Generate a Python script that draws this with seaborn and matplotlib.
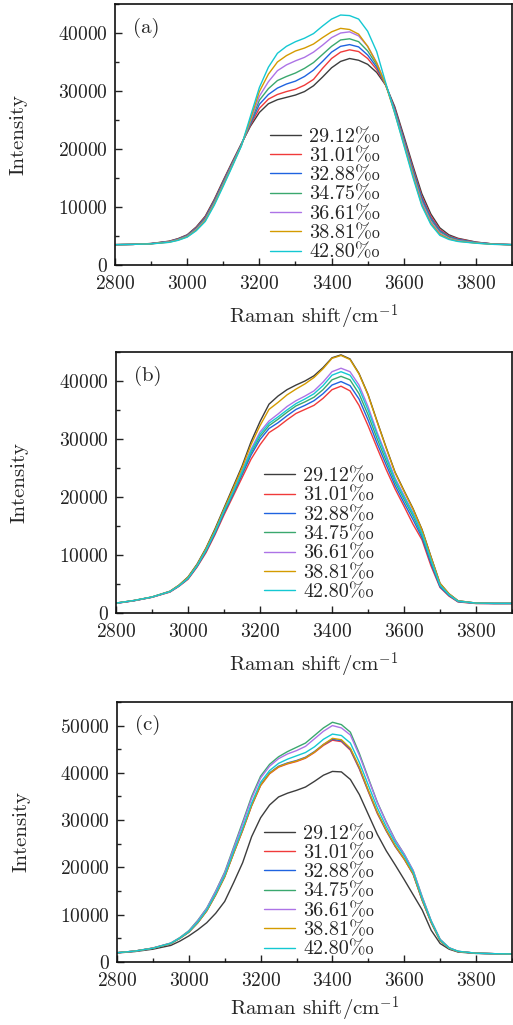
import numpy as np
import pandas as pd
import matplotlib
matplotlib.use("Agg")
import matplotlib.pyplot as plt
from matplotlib.ticker import MultipleLocator
import seaborn as sns

# wavenumber grid (cm^-1) shared by all three panels
shift = [2800, 2850, 2900, 2950, 2975, 3000, 3025, 3050, 3075, 3100, 3125, 3150, 3175,
         3200, 3225, 3250, 3275, 3300, 3325, 3350, 3375, 3400, 3425, 3450, 3475, 3500,
         3525, 3550, 3575, 3600, 3625, 3650, 3675, 3700, 3725, 3750, 3800, 3850, 3900]

labels = ["29.12%\u2080", "31.01%\u2080", "32.88%\u2080", "34.75%\u2080",
          "36.61%\u2080", "38.81%\u2080", "42.80%\u2080"]
colors = ["#3d3d3d", "#f03a3a", "#1f63e0", "#3aa86e", "#ad73e6", "#d49b00", "#14c8d2"]

# panel (a)
a_2912 = [3500, 3550, 3700, 4100, 4550, 5200, 6550, 8400, 11300, 14600, 17800, 20900, 23900, 26300, 27800, 28500, 28900, 29300, 29900, 30900, 32400, 34000, 35100, 35600, 35300, 34600, 33200, 31000, 27300, 22300, 17200, 12300, 8800, 6400, 5200, 4600, 3950, 3600, 3500]
a_3101 = [3500, 3550, 3690, 4070, 4500, 5130, 6440, 8250, 11130, 14430, 17670, 20830, 24100, 27000, 28600, 29400, 29900, 30300, 31000, 32000, 33900, 35600, 36700, 37100, 36800, 35600, 33700, 31000, 27000, 21900, 16800, 11800, 8400, 6100, 5000, 4500, 3920, 3600, 3500]
a_3288 = [3500, 3550, 3680, 4030, 4450, 5070, 6330, 8100, 10970, 14270, 17530, 20770, 24300, 27700, 29400, 30500, 31200, 31700, 32500, 33600, 35100, 36700, 37700, 38000, 37600, 36200, 34100, 31050, 26800, 21700, 16500, 11500, 8100, 5900, 4900, 4400, 3880, 3600, 3500]
a_3475 = [3500, 3550, 3670, 4000, 4400, 5000, 6230, 7950, 10800, 14100, 17400, 20700, 24500, 28400, 30400, 31800, 32500, 33100, 33900, 34900, 36300, 37700, 38800, 39000, 38500, 36900, 34500, 31100, 26600, 21400, 16200, 11100, 7800, 5700, 4800, 4300, 3840, 3580, 3500]
a_3661 = [3500, 3550, 3660, 3970, 4350, 4930, 6120, 7800, 10630, 13930, 17270, 20630, 24800, 29100, 31600, 33500, 34500, 35200, 35800, 36700, 37900, 39200, 40000, 40200, 39500, 37700, 34900, 31150, 26400, 21200, 15800, 10800, 7500, 5500, 4600, 4200, 3800, 3570, 3500]
a_3881 = [3500, 3550, 3650, 3930, 4300, 4870, 6010, 7650, 10470, 13770, 17130, 20570, 25100, 29900, 32900, 35000, 36100, 36900, 37400, 38100, 39200, 40200, 40800, 40600, 39800, 37700, 34800, 31100, 26200, 20900, 15500, 10400, 7200, 5300, 4500, 4100, 3770, 3560, 3500]
a_4280 = [3500, 3550, 3640, 3900, 4250, 4800, 5900, 7500, 10300, 13600, 17000, 20500, 25600, 30600, 34100, 36500, 37700, 38500, 39100, 39900, 41200, 42400, 43100, 43000, 42400, 40300, 36800, 31400, 26200, 20700, 15200, 10200, 7000, 5100, 4400, 4050, 3750, 3550, 3500]

# panel (b)
b_2912 = [1700, 2150, 2750, 3750, 4800, 6200, 8400, 11200, 14500, 18100, 21700, 25300, 29500, 33000, 36000, 37400, 38500, 39300, 40000, 40900, 42300, 44000, 44500, 43800, 41300, 37700, 33100, 28600, 24300, 21100, 18000, 14400, 9700, 5100, 3300, 2100, 1700, 1650, 1650]
b_3101 = [1650, 2100, 2700, 3600, 4600, 5800, 7900, 10400, 13500, 16900, 20100, 23300, 26500, 29000, 31100, 32100, 33300, 34400, 35100, 35800, 37000, 38500, 39100, 38300, 35800, 32300, 28500, 24800, 21400, 18400, 15300, 12600, 8100, 4400, 2900, 1900, 1620, 1600, 1600]
b_3288 = [1660, 2110, 2710, 3650, 4640, 5900, 8000, 10600, 13700, 17200, 20400, 23800, 27200, 29900, 31800, 32800, 34000, 35100, 35800, 36600, 37800, 39300, 39900, 39200, 36900, 33300, 29300, 25600, 22000, 19000, 16100, 13000, 8500, 4500, 3000, 1950, 1650, 1630, 1630]
b_3475 = [1680, 2130, 2730, 3680, 4680, 5950, 8100, 10700, 13900, 17400, 20600, 24100, 27600, 30400, 32300, 33400, 34600, 35700, 36400, 37200, 38500, 40200, 40800, 40200, 37800, 34200, 30100, 26300, 22600, 19600, 16700, 13400, 8900, 4700, 3100, 2000, 1670, 1650, 1650]
b_3661 = [1680, 2130, 2730, 3700, 4720, 6050, 8200, 10900, 14100, 17700, 21000, 24500, 28200, 31200, 33100, 34300, 35600, 36600, 37400, 38300, 39800, 41600, 42200, 41600, 39300, 35600, 31200, 27300, 23300, 20300, 17300, 13900, 9300, 4900, 3200, 2050, 1680, 1650, 1650]
b_3881 = [1700, 2150, 2750, 3720, 4780, 6150, 8300, 11100, 14300, 17900, 21400, 25000, 29000, 32300, 35100, 36300, 37600, 38600, 39500, 40600, 42100, 43900, 44400, 43700, 41200, 37600, 33000, 28500, 24200, 21000, 17900, 14300, 9600, 5100, 3300, 2100, 1700, 1650, 1650]
b_4280 = [1700, 2150, 2750, 3700, 4700, 6000, 8150, 10850, 14000, 17600, 20800, 24300, 27900, 30800, 32700, 33800, 35000, 36100, 36900, 37800, 39200, 41000, 41600, 41000, 38700, 35000, 30800, 26900, 23000, 20000, 17100, 13700, 9100, 4800, 3150, 2050, 1700, 1650, 1650]

# panel (c)
c_2912 = [1900, 2200, 2700, 3500, 4400, 5500, 6800, 8300, 10300, 12800, 16800, 21000, 26500, 30500, 33200, 34900, 35700, 36300, 37000, 38200, 39500, 40300, 40200, 38600, 35400, 31200, 27000, 23500, 20500, 17400, 14200, 11000, 6700, 3900, 2700, 2100, 1800, 1750, 1700]
c_3101 = [1950, 2300, 2900, 3900, 5000, 6300, 8300, 10800, 14200, 18000, 23000, 27800, 33000, 37300, 39800, 41200, 41900, 42400, 43100, 44300, 45800, 46900, 46600, 44800, 40800, 36000, 31400, 27700, 24400, 21700, 18500, 13000, 8300, 4500, 2900, 2200, 1850, 1750, 1700]
c_3288 = [1950, 2300, 2900, 3900, 5000, 6300, 8300, 10850, 14250, 18100, 23100, 28000, 33200, 37500, 40000, 41400, 42100, 42600, 43300, 44500, 46000, 47100, 46800, 45000, 41000, 36200, 31600, 27800, 24500, 21800, 18600, 13100, 8400, 4500, 2900, 2200, 1850, 1750, 1700]
c_3475 = [1950, 2300, 2950, 4000, 5150, 6600, 8800, 11400, 15000, 19000, 24300, 29600, 35000, 39300, 41800, 43400, 44500, 45400, 46300, 47900, 49500, 50700, 50200, 48600, 44100, 38900, 33800, 29600, 25800, 22800, 19300, 13800, 8700, 4800, 3000, 2260, 1850, 1750, 1700]
c_3661 = [1950, 2300, 2950, 4000, 5100, 6500, 8700, 11300, 14900, 18800, 24000, 29200, 34600, 38900, 41400, 43000, 44000, 44700, 45600, 47200, 48800, 50000, 49500, 48000, 43700, 38700, 33700, 29500, 25700, 22800, 19300, 13700, 8700, 4750, 3000, 2250, 1850, 1750, 1700]
c_3881 = [1950, 2300, 2900, 3900, 5000, 6300, 8300, 10800, 14200, 18000, 23000, 27900, 33100, 37400, 39900, 41300, 42000, 42500, 43200, 44400, 46000, 47300, 47000, 45200, 41200, 36300, 31700, 27900, 24600, 21800, 18600, 13100, 8400, 4500, 2900, 2200, 1850, 1750, 1700]
c_4280 = [1950, 2300, 2900, 3950, 5050, 6400, 8450, 11000, 14450, 18300, 23400, 28300, 33600, 38000, 40500, 42000, 42900, 43600, 44300, 45500, 47100, 48200, 47900, 46300, 42200, 37400, 32600, 28600, 25200, 22400, 19000, 13400, 8600, 4650, 2950, 2250, 1850, 1750, 1700]

sns.set_theme(style="ticks")
plt.rcParams["font.family"] = ["cmr10", "DejaVu Serif"]
plt.rcParams["mathtext.fontset"] = "cm"
plt.rcParams["axes.formatter.use_mathtext"] = True


def draw_panel(ax, curves, ymax, tag, leg_xy, xlab_y=-0.146):
    df = pd.DataFrame({
        "shift": np.tile(shift, len(curves)),
        "intensity": np.concatenate(curves),
        "label": np.repeat(labels, len(shift)),
    })
    sns.lineplot(data=df, x="shift", y="intensity", hue="label", hue_order=labels,
                 palette=colors, linewidth=1.0, errorbar=None, ax=ax)
    ax.set_xlim(2800, 3900)
    ax.set_ylim(0, ymax)
    ax.xaxis.set_major_locator(MultipleLocator(200))
    ax.xaxis.set_minor_locator(MultipleLocator(100))
    ax.yaxis.set_major_locator(MultipleLocator(10000))
    ax.yaxis.set_minor_locator(MultipleLocator(5000))
    ax.tick_params(which="both", direction="in", top=False, right=False,
                   labelsize=14, width=1.0, colors="#222222")
    ax.tick_params(which="major", length=5)
    ax.tick_params(which="minor", length=3)
    ax.tick_params(axis="x", pad=7)
    ax.tick_params(axis="y", pad=5)
    for sp in ax.spines.values():
        sp.set_linewidth(1.2)
        sp.set_color("#111111")
    ax.set_xlabel(r"Raman shift/cm$^{-1}$", fontsize=15)
    ax.set_ylabel("Intensity", fontsize=15)
    ax.xaxis.set_label_coords(0.5, xlab_y)
    ax.yaxis.set_label_coords(-0.22, 0.5)
    ax.text(0.045, 0.91, tag, transform=ax.transAxes, fontsize=15, va="center")
    handles, labs = ax.get_legend_handles_labels()
    ax.legend(handles, labs, loc="upper left", bbox_to_anchor=leg_xy,
              frameon=False, fontsize=14.5, handlelength=1.55, handletextpad=0.4,
              labelspacing=0.06, borderpad=0, borderaxespad=0)


fig = plt.figure(figsize=(5.13, 10.25), dpi=100)
ax_a = fig.add_axes([0.2242, 0.7415, 0.7739, 0.2546])
ax_b = fig.add_axes([0.2261, 0.4020, 0.7720, 0.2546])
ax_c = fig.add_axes([0.2280, 0.0615, 0.7700, 0.2537])

draw_panel(ax_a, [a_2912, a_3101, a_3288, a_3475, a_3661, a_3881, a_4280], 45000, "(a)", (0.39, 0.526))
draw_panel(ax_b, [b_2912, b_3101, b_3288, b_3475, b_3661, b_3881, b_4280], 45000, "(b)", (0.374, 0.558))
draw_panel(ax_c, [c_2912, c_3101, c_3288, c_3475, c_3661, c_3881, c_4280], 55000, "(c)", (0.372, 0.528), -0.128)

fig.savefig("out.png", dpi=100)
